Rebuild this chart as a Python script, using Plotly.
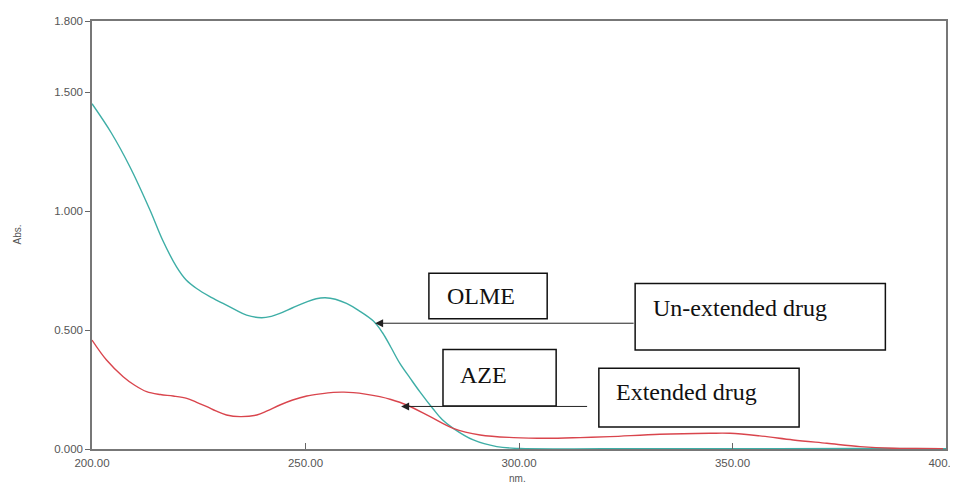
import plotly.graph_objects as go

# OLME (un-extended drug) spectrum
olme_nm = [200.0, 204.5, 208.9, 213.6, 216.5, 219.8, 222.0, 224.5, 227.5, 230.7, 233.5, 236.2, 239.7,
           242.0, 244.0, 247.0, 250.3, 252.5, 254.6, 257.0, 259.6, 262.5, 265.9, 268.0, 270.0, 272.1,
           274.5, 276.8, 279.9, 282.0, 284.6, 289.3, 294.8, 300.2, 320.0, 350.0, 380.0, 400.0]
olme_abs = [1.452, 1.330, 1.186, 1.004, 0.880, 0.766, 0.712, 0.675, 0.642, 0.612, 0.586, 0.563, 0.552,
            0.558, 0.570, 0.594, 0.619, 0.632, 0.636, 0.630, 0.612, 0.582, 0.538, 0.490, 0.428, 0.360,
            0.298, 0.240, 0.168, 0.124, 0.087, 0.038, 0.010, 0.002, 0.001, 0.001, 0.002, 0.001]

# AZE (extended drug) spectrum
aze_nm = [200.0, 203.4, 207.3, 210.0, 212.8, 216.0, 219.0, 222.2, 224.5, 226.9, 229.0, 231.5, 234.7,
          238.6, 241.0, 244.0, 247.0, 250.3, 253.5, 256.5, 259.0, 261.2, 264.0, 267.4, 270.0, 273.7,
          279.2, 284.6, 290.9, 298.7, 306.5, 314.3, 321.3, 333.0, 344.7, 349.4, 356.4, 364.2, 372.1,
          379.9, 387.7, 393.0, 399.3]
aze_abs = [0.458, 0.374, 0.304, 0.268, 0.241, 0.229, 0.223, 0.213, 0.196, 0.178, 0.160, 0.143, 0.136,
           0.143, 0.160, 0.185, 0.206, 0.223, 0.232, 0.238, 0.239, 0.237, 0.231, 0.220, 0.208, 0.185,
           0.136, 0.087, 0.059, 0.048, 0.045, 0.048, 0.052, 0.062, 0.066, 0.066, 0.055, 0.038, 0.024,
           0.010, 0.003, 0.002, 0.001]

x_ticks = [200, 250, 300, 350, 400]
x_tick_labels = ["200.00", "250.00", "300.00", "350.00", "400.00"]
y_ticks = [0, 0.5, 1.0, 1.5, 1.8]
y_tick_labels = ["0.000", "0.500", "1.000", "1.500", "1.800"]

teal = "#3eaea6"
red = "#d9454d"

fig = go.Figure()
fig.add_trace(go.Scatter(x=olme_nm, y=olme_abs, mode="lines", line=dict(color=teal, width=1.4, shape="spline"),
                         name="OLME", showlegend=False))
fig.add_trace(go.Scatter(x=aze_nm, y=aze_abs, mode="lines", line=dict(color=red, width=1.4, shape="spline"),
                         name="AZE", showlegend=False))

serif = "Liberation Serif"
box_line = dict(color="#111111", width=1.5)
boxes = [
    (278.9, 0.548, 306.6, 0.739),   # OLME
    (327.2, 0.416, 385.8, 0.696),   # Un-extended drug
    (282.2, 0.181, 308.7, 0.418),   # AZE
    (318.7, 0.092, 365.6, 0.340),   # Extended drug
]
for x0, y0, x1, y1 in boxes:
    fig.add_shape(type="rect", xref="x", yref="y", x0=x0, y0=y0, x1=x1, y1=y1,
                  line=box_line, fillcolor="white", layer="above")

texts = [
    ("OLME", 291.1, 0.643, "center"),
    ("Un-extended drug", 330.8, 0.592, "left"),
    ("AZE", 291.8, 0.311, "center"),
    ("Extended drug", 322.3, 0.239, "left"),
]
for t, x, y, anchor in texts:
    fig.add_annotation(x=x, y=y, xref="x", yref="y", text=t, showarrow=False, xanchor=anchor, yanchor="middle",
                       font=dict(family=serif, size=24, color="#111111"))

# arrows
fig.add_annotation(x=266.3, y=0.529, ax=327.2, ay=0.529, xref="x", yref="y", axref="x", ayref="y",
                   text="", showarrow=True, arrowhead=2, arrowsize=1.6, arrowwidth=1, arrowcolor="#222222")
fig.add_annotation(x=272.4, y=0.179, ax=316.3, ay=0.179, xref="x", yref="y", axref="x", ayref="y",
                   text="", showarrow=True, arrowhead=2, arrowsize=1.6, arrowwidth=1, arrowcolor="#222222")

# axis titles
title_font = dict(family="Liberation Sans", size=10, color="#555555")
fig.add_annotation(text="Abs.", x=0, y=0.5, xref="paper", yref="paper", xshift=-83, showarrow=False,
                   textangle=-90, font=title_font)
fig.add_annotation(text="nm.", x=0.5, y=0, xref="paper", yref="paper", yshift=-29, xshift=-2,
                   yanchor="middle", showarrow=False, font=title_font)

axis_font = dict(family="Liberation Sans", size=11.5, color="#555555")
fig.update_layout(
    width=950, height=476,
    margin=dict(l=84, r=12, t=13, b=35),
    paper_bgcolor="white", plot_bgcolor="white",
    xaxis=dict(range=[200, 400], tickvals=x_ticks, ticktext=x_tick_labels, ticks="inside", ticklen=6,
               tickcolor="#666666", tickwidth=1.2, showgrid=False, zeroline=False, automargin=False,
               ticklabeloverflow="allow", ticklabelstandoff=2,
               showline=True, linecolor="#777777", linewidth=1.5, mirror=True, tickfont=axis_font),
    yaxis=dict(range=[0, 1.8], tickvals=y_ticks, ticktext=y_tick_labels, ticks="outside", ticklen=5,
               tickcolor="#666666", tickwidth=1.2, showgrid=False, zeroline=False, automargin=False,
               ticklabeloverflow="allow",
               showline=True, linecolor="#777777", linewidth=1.5, mirror=True, tickfont=axis_font),
)

fig.write_html("out.html")
